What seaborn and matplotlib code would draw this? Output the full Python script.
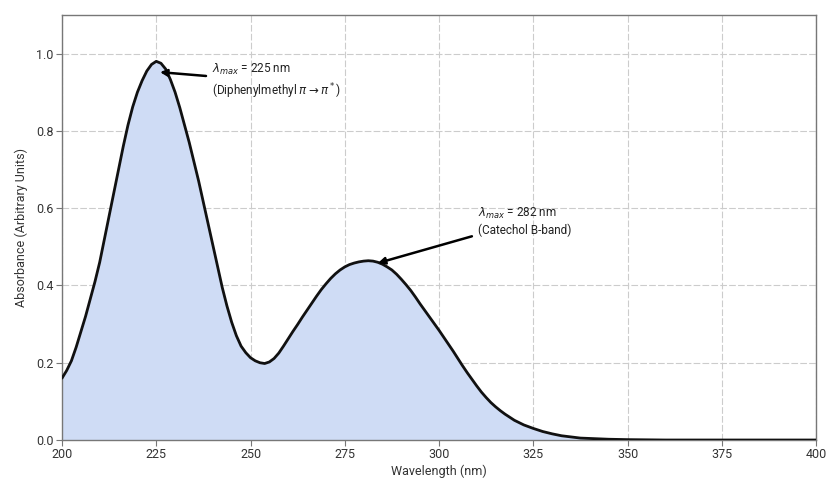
import numpy as np
import pandas as pd
import matplotlib
matplotlib.use("Agg")
import matplotlib.pyplot as plt
import seaborn as sns

# Wavelength (nm) and absorbance values
wavelength = [200, 201.25, 202.5, 203.75, 205, 206.25, 207.5, 208.75, 210, 211.25,
              212.5, 213.75, 215, 216.25, 217.5, 218.75, 220, 221.25, 222.5, 223.75,
              225, 226.25, 227.5, 228.75, 230, 231.25, 232.5, 233.75, 235, 236.25,
              237.5, 238.75, 240, 241.25, 242.5, 243.75, 245, 246.25, 247.5, 248.75,
              250, 251.25, 252.5, 253.75, 255, 256.25, 257.5, 258.75, 260, 261.25,
              262.5, 263.75, 265, 266.25, 267.5, 268.75, 270, 271.25, 272.5, 273.75,
              275, 276.25, 277.5, 278.75, 280, 281.25, 282.5, 283.75, 285, 286.25,
              287.5, 288.75, 290, 291.25, 292.5, 293.75, 295, 296.25, 297.5, 298.75,
              300, 301.25, 302.5, 303.75, 305, 306.25, 307.5, 308.75, 310, 311.25,
              312.5, 313.75, 315, 316.25, 317.5, 318.75, 320, 322.5, 325, 327.5,
              330, 332.5, 335, 337.5, 340, 345, 350, 355, 360, 370, 380, 390, 400]
absorbance = [0.160, 0.180, 0.205, 0.240, 0.280, 0.320, 0.365, 0.410, 0.460, 0.520,
              0.580, 0.640, 0.700, 0.760, 0.815, 0.862, 0.900, 0.930, 0.955, 0.972,
              0.980, 0.975, 0.960, 0.933, 0.900, 0.860, 0.815, 0.770, 0.720, 0.670,
              0.615, 0.560, 0.505, 0.450, 0.395, 0.347, 0.305, 0.270, 0.243, 0.226,
              0.213, 0.205, 0.200, 0.198, 0.202, 0.211, 0.225, 0.243, 0.262, 0.281,
              0.299, 0.318, 0.336, 0.354, 0.372, 0.389, 0.404, 0.418, 0.430, 0.440,
              0.448, 0.454, 0.458, 0.461, 0.463, 0.464, 0.463, 0.460, 0.455, 0.448,
              0.440, 0.429, 0.416, 0.402, 0.387, 0.370, 0.352, 0.335, 0.318, 0.301,
              0.284, 0.266, 0.248, 0.230, 0.211, 0.192, 0.174, 0.157, 0.140, 0.124,
              0.110, 0.097, 0.086, 0.076, 0.067, 0.059, 0.051, 0.039, 0.030, 0.022,
              0.016, 0.011, 0.008, 0.005, 0.004, 0.002, 0.001, 0.0005, 0.0, 0.0, 0.0, 0.0, 0.0]

x_ticks = [200, 225, 250, 275, 300, 325, 350, 375, 400]
y_ticks = [0.0, 0.2, 0.4, 0.6, 0.8, 1.0]

df = pd.DataFrame({"Wavelength (nm)": wavelength, "Absorbance": absorbance})

sns.set_theme(style="whitegrid")
plt.rcParams["font.family"] = ["Roboto", "DejaVu Sans"]
plt.rcParams["mathtext.fontset"] = "dejavusans"

fig = plt.figure(figsize=(8.31, 4.83), dpi=100)
ax = fig.add_axes([0.0746, 0.089, 0.9074, 0.880])

ax.fill_between(df["Wavelength (nm)"], df["Absorbance"], 0, color="#cfdcf5", lw=0, zorder=1)
sns.lineplot(data=df, x="Wavelength (nm)", y="Absorbance", color="#111111", lw=2.0, ax=ax, zorder=3)

ax.set_xlim(200, 400)
ax.set_ylim(0, 1.1)
ax.set_xticks(x_ticks)
ax.set_yticks(y_ticks)
ax.set_xticklabels([str(t) for t in x_ticks])
ax.set_yticklabels([f"{t:.1f}" for t in y_ticks])
ax.grid(True, color="#cccccc", lw=0.8, ls=(0, (6, 2)))
ax.set_axisbelow(True)
for s in ax.spines.values():
    s.set_color("#777777")
    s.set_linewidth(1.0)
ax.tick_params(axis="both", which="both", length=4, width=0.8, color="#777777",
               labelsize=9, labelcolor="#333333", pad=2, bottom=True, left=True)
ax.set_xlabel("Wavelength (nm)", fontsize=9, color="#333333", labelpad=2)
ax.set_ylabel("Absorbance (Arbitrary Units)", fontsize=9, color="#333333", labelpad=6)

ax.annotate(r"$\lambda_{max}$ = 225 nm" + "\n" + r"(Diphenylmethyl $\pi \rightarrow \pi^*$)",
            xy=(226, 0.952), xytext=(239.8, 0.927), fontsize=8.5, color="#222222",
            ha="left", va="center", linespacing=1.3,
            arrowprops=dict(arrowstyle="-|>", color="black", lw=1.8, mutation_scale=10,
                            shrinkA=2, shrinkB=0))
ax.annotate(r"$\lambda_{max}$ = 282 nm" + "\n" + "(Catechol B-band)",
            xy=(283.8, 0.458), xytext=(310.3, 0.566), fontsize=8.5, color="#222222",
            ha="left", va="center",
            arrowprops=dict(arrowstyle="-|>", color="black", lw=1.8, mutation_scale=10,
                            shrinkA=2, shrinkB=0))

fig.savefig("out.png", dpi=100)
